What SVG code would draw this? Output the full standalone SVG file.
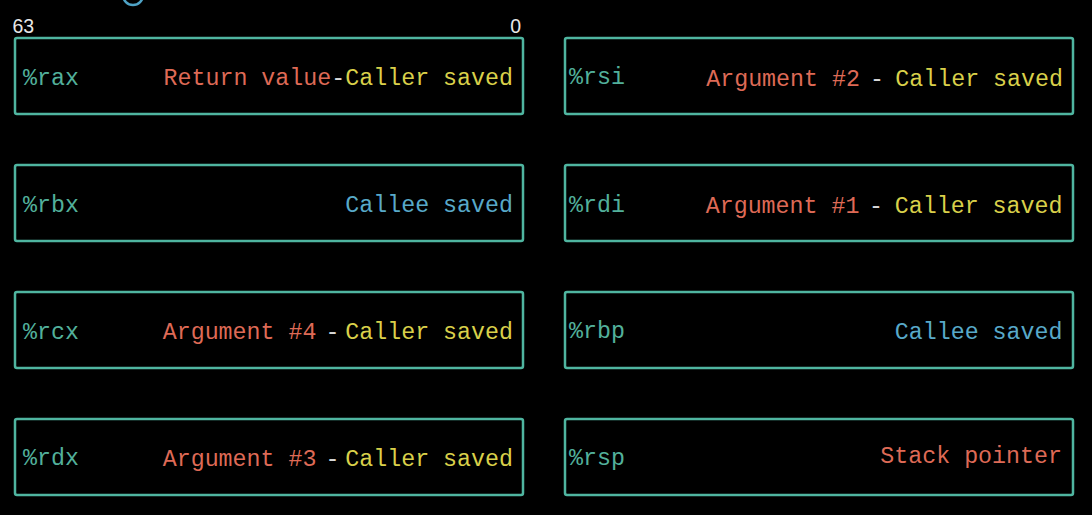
<svg xmlns="http://www.w3.org/2000/svg" width="1092" height="515" viewBox="0 0 1092 515">
<style>
.bg{fill:#000}
.box{fill:#000;stroke:#4fb5a0;stroke-width:2.5}
.t{font-family:"Liberation Mono","Courier New",monospace;font-size:23.3px}
.reg{fill:#52b09b}
.red{fill:#de6a56}
.yel{fill:#d9d04a}
.blu{fill:#58a9c9}
.dash{fill:#d8d8d8}
.num{font-family:"Liberation Sans",Arial,sans-serif;font-size:19.5px;fill:#e8e8e8}
.e{text-anchor:end}
.m{text-anchor:middle}
</style>
<rect class="bg" x="0" y="0" width="1092" height="515"/>
<circle cx="133" cy="-5" r="10" fill="none" stroke="#4fa3c6" stroke-width="2.5"/>
<g id="bit-labels">
<text class="num" x="12.5" y="32.5">63</text>
<text class="num e" x="521" y="32.5">0</text>
</g>
<g id="rax">
<rect class="box" x="15" y="38" width="508" height="76" rx="2"/>
<text class="t reg" x="23" y="84.5">%rax</text>
<text class="t e" x="513" y="85"><tspan class="red">Return value</tspan><tspan class="dash">-</tspan><tspan class="yel">Caller saved</tspan></text>
</g>
<g id="rbx">
<rect class="box" x="15" y="165" width="508" height="76" rx="2"/>
<text class="t reg" x="23" y="211.5">%rbx</text>
<text class="t e blu" x="513" y="211.5">Callee saved</text>
</g>
<g id="rcx">
<rect class="box" x="15" y="292" width="508" height="76" rx="2"/>
<text class="t reg" x="23" y="338.5">%rcx</text>
<text class="t e red" x="316.5" y="339">Argument #4</text>
<text class="t m dash" x="332.5" y="339">-</text>
<text class="t e yel" x="513" y="339">Caller saved</text>
</g>
<g id="rdx">
<rect class="box" x="15" y="419" width="508" height="76" rx="2"/>
<text class="t reg" x="23" y="465">%rdx</text>
<text class="t e red" x="316.5" y="466">Argument #3</text>
<text class="t m dash" x="332.5" y="466">-</text>
<text class="t e yel" x="513" y="466">Caller saved</text>
</g>
<g id="rsi">
<rect class="box" x="565" y="38" width="508" height="76" rx="2"/>
<text class="t reg" x="569" y="84">%rsi</text>
<text class="t e red" x="860" y="85.5">Argument #2</text>
<text class="t m dash" x="877" y="85.5">-</text>
<text class="t e yel" x="1063" y="85.5">Caller saved</text>
</g>
<g id="rdi">
<rect class="box" x="565" y="165" width="508" height="76" rx="2"/>
<text class="t reg" x="569" y="211.5">%rdi</text>
<text class="t e red" x="859.5" y="212.5">Argument #1</text>
<text class="t m dash" x="876" y="212.5">-</text>
<text class="t e yel" x="1062.5" y="212.5">Caller saved</text>
</g>
<g id="rbp">
<rect class="box" x="565" y="292" width="508" height="76" rx="2"/>
<text class="t reg" x="569" y="337.5">%rbp</text>
<text class="t e blu" x="1062.5" y="338.5">Callee saved</text>
</g>
<g id="rsp">
<rect class="box" x="565" y="419" width="508" height="76" rx="2"/>
<text class="t reg" x="569" y="464.5">%rsp</text>
<text class="t e red" x="1062" y="463">Stack pointer</text>
</g>
<g id="connectors"></g>
</svg>
